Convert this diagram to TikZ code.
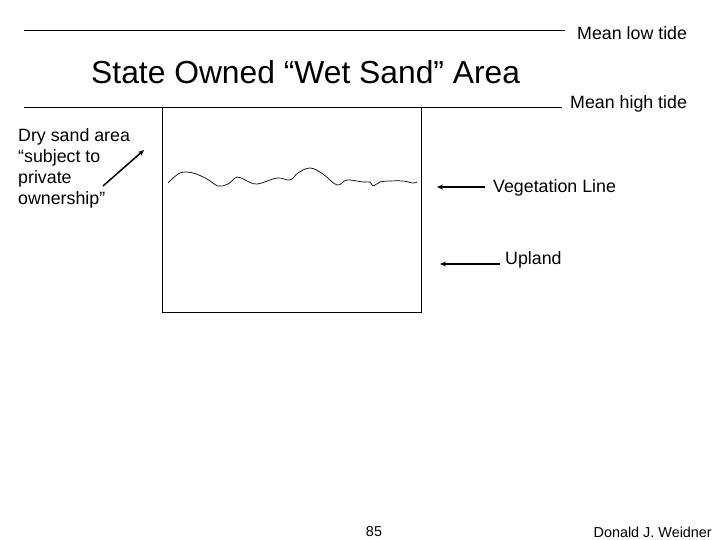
\documentclass[tikz,border=0pt]{standalone}
\usepackage{fontspec}
\setmainfont{Liberation Sans}
\usetikzlibrary{arrows.meta,positioning}

\begin{document}
\begin{tikzpicture}[x=1pt, y=-1pt, every node/.style={font=\fontsize{17.8}{21}\selectfont, inner sep=0pt}, tide/.style={line width=0.8pt}, pointer/.style={line width=1.5pt, -{Stealth[length=6pt,width=5pt]}}]
    \useasboundingbox (0,0) rectangle (720,540);
    \draw[tide] (24,30) coordinate (lowL) -- (565,30) coordinate (lowR);
    \node[anchor=west] (low) at (577,33) {Mean low tide};
    \node[anchor=west, font=\fontsize{31.8}{36}\selectfont] (title) at (91,72) {State Owned “Wet Sand” Area};
    \draw[tide] (24,107) coordinate (highL) -- (562,107) coordinate (highR);
    \node[anchor=west] (high) at (570,104) {Mean high tide};
    \draw[tide] (162,107) rectangle (421,312);
    \draw[line width=0.7pt] plot[smooth, tension=0.6] coordinates {(168,183) (180,173) (193,173) (207,179) (218,186) (228,184) (237,177) (245,180) (257,184) (277,178) (290,180) (298,173) (310,168) (323,174) (337,185) (347,180) (363,182) (370,182) (373,186) (380,182) (390,181) (403,181) (413,183) (417,182)};
    \node[anchor=north west, align=left] (dry) at (18,128) {Dry sand area\\“subject to\\private\\ownership”};
    \coordinate (drytip) at (144,150);
    \draw[pointer] (103,186) -- (drytip);
    \node[anchor=west] (veg) at (493,188) {Vegetation Line};
    \coordinate (vegtip) at (437,187);
    \draw[pointer] (veg.west) ++(-8,-1) -- (vegtip);
    \node[anchor=west] (up) at (505,260) {Upland};
    \coordinate (uptip) at (440,264);
    \draw[pointer] (up.west) ++(-5,4) -- (uptip);
    \node[font=\fontsize{14.4}{17}\selectfont] (page) at (374,532) {85};
    \node[anchor=east, font=\fontsize{14.4}{17}\selectfont] (author) at (712,532) {Donald J. Weidner};
\end{tikzpicture}
\end{document}
